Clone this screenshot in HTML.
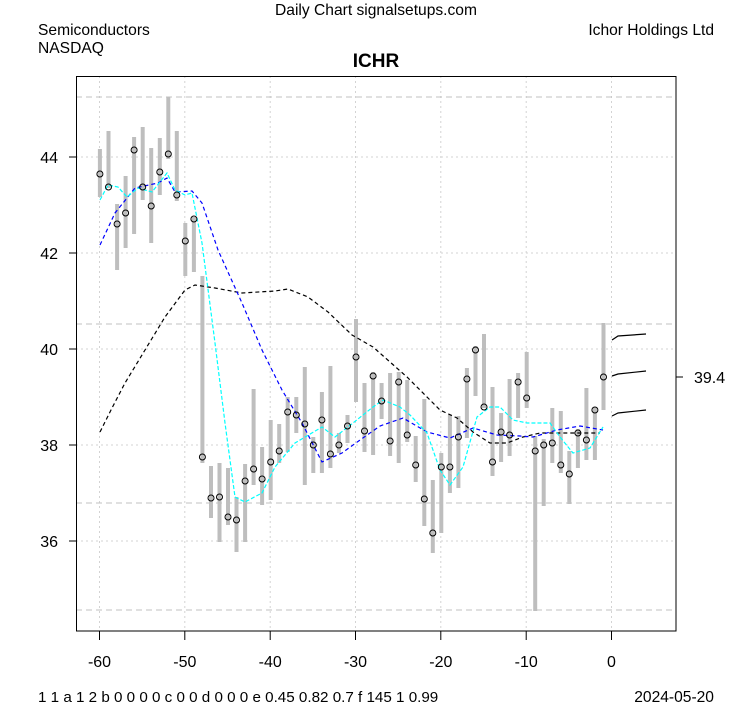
<!DOCTYPE html>
<html><head><meta charset="utf-8"><style>
html,body{margin:0;padding:0;background:#fff;}
svg{display:block;font-family:"Liberation Sans",Arial,sans-serif;}
</style></head><body>
<svg width="753" height="708" viewBox="0 0 753 708" xmlns="http://www.w3.org/2000/svg">
<rect width="753" height="708" fill="#fff"/>
<g font-size="15.6" fill="#000">
<text x="376" y="15" text-anchor="middle">Daily Chart signalsetups.com</text>
<text x="38" y="35">Semiconductors</text>
<text x="38" y="53">NASDAQ</text>
<text x="714" y="35" text-anchor="end">Ichor Holdings Ltd</text>
<text x="376" y="67" text-anchor="middle" font-weight="bold" font-size="19">ICHR</text>
<text x="38" y="702" font-size="15.2">1 1 a 1 2 b 0 0 0 0 c 0 0 d 0 0 0 e 0.45 0.82 0.7 f 145 1 0.99</text>
<text x="714" y="702" text-anchor="end">2024-05-20</text>
</g>
<!-- grid -->
<g stroke="#d3d3d3" stroke-width="1" stroke-dasharray="2,3">
<line x1="99.5" y1="76" x2="99.5" y2="631"/><line x1="184.8" y1="76" x2="184.8" y2="631"/>
<line x1="270.2" y1="76" x2="270.2" y2="631"/><line x1="355.5" y1="76" x2="355.5" y2="631"/>
<line x1="440.8" y1="76" x2="440.8" y2="631"/><line x1="526.2" y1="76" x2="526.2" y2="631"/>
<line x1="611.5" y1="76" x2="611.5" y2="631"/>
<line x1="76" y1="157" x2="676" y2="157"/><line x1="76" y1="253" x2="676" y2="253"/>
<line x1="76" y1="349" x2="676" y2="349"/><line x1="76" y1="445" x2="676" y2="445"/>
<line x1="76" y1="541" x2="676" y2="541"/>
</g>
<g stroke="#c0c0c0" stroke-width="1" stroke-dasharray="6,4">
<line x1="76" y1="97" x2="676" y2="97"/><line x1="76" y1="324" x2="676" y2="324"/>
<line x1="76" y1="503" x2="676" y2="503"/><line x1="76" y1="610" x2="676" y2="610"/>
</g>
<!-- bars -->
<g stroke="#bebebe" stroke-width="4">
<line x1="99.9" y1="149" x2="99.9" y2="197"/><line x1="108.5" y1="131" x2="108.5" y2="188"/>
<line x1="117.1" y1="204" x2="117.1" y2="270"/><line x1="125.6" y1="176" x2="125.6" y2="248"/>
<line x1="134.1" y1="137" x2="134.1" y2="234"/><line x1="142.7" y1="127" x2="142.7" y2="200"/>
<line x1="151.2" y1="148" x2="151.2" y2="243"/><line x1="159.8" y1="138" x2="159.8" y2="195"/>
<line x1="168.3" y1="97" x2="168.3" y2="159"/><line x1="176.8" y1="131" x2="176.8" y2="201"/>
<line x1="185.3" y1="223" x2="185.3" y2="276"/><line x1="193.9" y1="217" x2="193.9" y2="272"/>
<line x1="202.4" y1="276" x2="202.4" y2="463"/><line x1="211.0" y1="466" x2="211.0" y2="518"/>
<line x1="219.5" y1="463" x2="219.5" y2="542"/><line x1="228.0" y1="468" x2="228.0" y2="525"/>
<line x1="236.5" y1="497" x2="236.5" y2="552"/><line x1="245.1" y1="464" x2="245.1" y2="542"/>
<line x1="253.6" y1="389" x2="253.6" y2="485"/><line x1="262.1" y1="447" x2="262.1" y2="505"/>
<line x1="270.7" y1="420" x2="270.7" y2="500"/><line x1="279.2" y1="424" x2="279.2" y2="463"/>
<line x1="287.7" y1="397" x2="287.7" y2="452"/><line x1="296.3" y1="397" x2="296.3" y2="433"/>
<line x1="304.8" y1="367" x2="304.8" y2="485"/><line x1="313.3" y1="437" x2="313.3" y2="473"/>
<line x1="321.9" y1="392" x2="321.9" y2="473"/><line x1="330.4" y1="366" x2="330.4" y2="468"/>
<line x1="338.9" y1="433" x2="338.9" y2="453"/><line x1="347.5" y1="415" x2="347.5" y2="443"/>
<line x1="356.0" y1="319" x2="356.0" y2="402"/><line x1="364.5" y1="383" x2="364.5" y2="452"/>
<line x1="373.1" y1="372" x2="373.1" y2="455"/><line x1="381.6" y1="383" x2="381.6" y2="419"/>
<line x1="390.1" y1="373" x2="390.1" y2="456"/><line x1="398.7" y1="372" x2="398.7" y2="463"/>
<line x1="407.2" y1="380" x2="407.2" y2="442"/><line x1="415.7" y1="436" x2="415.7" y2="482"/>
<line x1="424.3" y1="399" x2="424.3" y2="526"/><line x1="432.8" y1="480" x2="432.8" y2="553"/>
<line x1="441.3" y1="453" x2="441.3" y2="533"/><line x1="449.9" y1="415" x2="449.9" y2="493"/>
<line x1="458.4" y1="416" x2="458.4" y2="488"/><line x1="466.9" y1="368" x2="466.9" y2="438"/>
<line x1="475.5" y1="346" x2="475.5" y2="396"/><line x1="484.0" y1="334" x2="484.0" y2="408"/>
<line x1="492.5" y1="387" x2="492.5" y2="476"/><line x1="501.1" y1="413" x2="501.1" y2="462"/>
<line x1="509.6" y1="379" x2="509.6" y2="456"/><line x1="518.1" y1="373" x2="518.1" y2="418"/>
<line x1="526.7" y1="352" x2="526.7" y2="408"/><line x1="535.2" y1="436" x2="535.2" y2="611"/>
<line x1="543.7" y1="439" x2="543.7" y2="506"/><line x1="552.3" y1="408" x2="552.3" y2="463"/>
<line x1="560.8" y1="411" x2="560.8" y2="473"/><line x1="569.3" y1="451" x2="569.3" y2="504"/>
<line x1="577.9" y1="429" x2="577.9" y2="468"/><line x1="586.4" y1="388" x2="586.4" y2="460"/>
<line x1="594.9" y1="407" x2="594.9" y2="460"/><line x1="603.5" y1="323" x2="603.5" y2="410"/>
</g>
<!-- MAs -->
<g fill="none" stroke-width="1.2">
<polyline stroke="#000" stroke-dasharray="4,3" points="100,432 112,408 125,383 145,350 165,317 185,290 195,285 215,288 242,293 275,291 288,289 308,297 328,312 352,335 373,347 407,377 440,410 457,418 473,432 490,443 507,443 523,437 540,433 600,433"/>
<polyline stroke="#0000ff" stroke-dasharray="4,3" points="100,245 115,213 135,188 158,183 167,178 175,192 192,191 202,203 218,250 242,303 262,350 282,390 302,423 322,462 342,453 360,440 380,426 403,418 427,432 450,438 473,428 497,435 520,436 533,437 557,430 580,426 603,430"/>
<polyline stroke="#00ffff" stroke-dasharray="4,2" points="100,200 108,185 118,187 127,197 138,188 152,192 167,173 175,190 185,195 192,193 202,243 215,343 225,423 235,497 245,502 262,493 275,467 295,443 322,427 335,437 353,423 373,407 383,400 400,407 410,415 427,433 440,470 450,485 463,467 477,417 490,407 500,407 513,420 527,423 550,423 560,437 573,453 590,448 603,427"/>
<polyline stroke="#000" points="612,340 618,336 646,334"/>
<polyline stroke="#000" points="612,376 618,374 646,371"/>
<polyline stroke="#000" points="612,416 618,413 646,410"/>
</g>
<!-- closes -->
<g fill="none" stroke="#000" stroke-width="1">
<circle cx="99.9" cy="174" r="3"/><circle cx="108.5" cy="187" r="3"/><circle cx="117.1" cy="224" r="3"/>
<circle cx="125.6" cy="213" r="3"/><circle cx="134.1" cy="150" r="3"/><circle cx="142.7" cy="187" r="3"/>
<circle cx="151.2" cy="206" r="3"/><circle cx="159.8" cy="172" r="3"/><circle cx="168.3" cy="154" r="3"/>
<circle cx="176.8" cy="195" r="3"/><circle cx="185.3" cy="241" r="3"/><circle cx="193.9" cy="219" r="3"/>
<circle cx="202.4" cy="457" r="3"/><circle cx="211.0" cy="498" r="3"/><circle cx="219.5" cy="497" r="3"/>
<circle cx="228.0" cy="517" r="3"/><circle cx="236.5" cy="520" r="3"/><circle cx="245.1" cy="481" r="3"/>
<circle cx="253.6" cy="469" r="3"/><circle cx="262.1" cy="479" r="3"/><circle cx="270.7" cy="462" r="3"/>
<circle cx="279.2" cy="451" r="3"/><circle cx="287.7" cy="412" r="3"/><circle cx="296.3" cy="415" r="3"/>
<circle cx="304.8" cy="424" r="3"/><circle cx="313.3" cy="445" r="3"/><circle cx="321.9" cy="420" r="3"/>
<circle cx="330.4" cy="454" r="3"/><circle cx="338.9" cy="445" r="3"/><circle cx="347.5" cy="426" r="3"/>
<circle cx="356.0" cy="357" r="3"/><circle cx="364.5" cy="431" r="3"/><circle cx="373.1" cy="376" r="3"/>
<circle cx="381.6" cy="401" r="3"/><circle cx="390.1" cy="441" r="3"/><circle cx="398.7" cy="382" r="3"/>
<circle cx="407.2" cy="435" r="3"/><circle cx="415.7" cy="465" r="3"/><circle cx="424.3" cy="499" r="3"/>
<circle cx="432.8" cy="533" r="3"/><circle cx="441.3" cy="467" r="3"/><circle cx="449.9" cy="467" r="3"/>
<circle cx="458.4" cy="437" r="3"/><circle cx="466.9" cy="379" r="3"/><circle cx="475.5" cy="350" r="3"/>
<circle cx="484.0" cy="407" r="3"/><circle cx="492.5" cy="462" r="3"/><circle cx="501.1" cy="432" r="3"/>
<circle cx="509.6" cy="435" r="3"/><circle cx="518.1" cy="382" r="3"/><circle cx="526.7" cy="398" r="3"/>
<circle cx="535.2" cy="451" r="3"/><circle cx="543.7" cy="445" r="3"/><circle cx="552.3" cy="443" r="3"/>
<circle cx="560.8" cy="465" r="3"/><circle cx="569.3" cy="474" r="3"/><circle cx="577.9" cy="433" r="3"/>
<circle cx="586.4" cy="440" r="3"/><circle cx="594.9" cy="410" r="3"/><circle cx="603.5" cy="377" r="3"/>
</g>
<!-- axes -->
<rect x="76.5" y="76.5" width="599.5" height="554.5" fill="none" stroke="#000" stroke-width="1"/>
<g stroke="#000" stroke-width="1">
<line x1="99.5" y1="631" x2="99.5" y2="640"/><line x1="184.8" y1="631" x2="184.8" y2="640"/>
<line x1="270.2" y1="631" x2="270.2" y2="640"/><line x1="355.5" y1="631" x2="355.5" y2="640"/>
<line x1="440.8" y1="631" x2="440.8" y2="640"/><line x1="526.2" y1="631" x2="526.2" y2="640"/>
<line x1="611.5" y1="631" x2="611.5" y2="640"/>
<line x1="69" y1="157" x2="76" y2="157"/><line x1="69" y1="253" x2="76" y2="253"/>
<line x1="69" y1="349" x2="76" y2="349"/><line x1="69" y1="445" x2="76" y2="445"/>
<line x1="69" y1="541" x2="76" y2="541"/>
<line x1="676" y1="377" x2="683" y2="377"/>
</g>
<g font-size="16" fill="#000" text-anchor="middle">
<text x="99.5" y="667">-60</text><text x="184.8" y="667">-50</text><text x="270.2" y="667">-40</text>
<text x="355.5" y="667">-30</text><text x="440.8" y="667">-20</text><text x="526.2" y="667">-10</text>
<text x="611.5" y="667">0</text>
</g>
<g font-size="16" fill="#000" text-anchor="end">
<text x="58" y="163">44</text><text x="58" y="259">42</text><text x="58" y="355">40</text>
<text x="58" y="451">38</text><text x="58" y="547">36</text>
</g>
<text x="694" y="383" font-size="16" fill="#000">39.4</text>
</svg>
</body></html>
